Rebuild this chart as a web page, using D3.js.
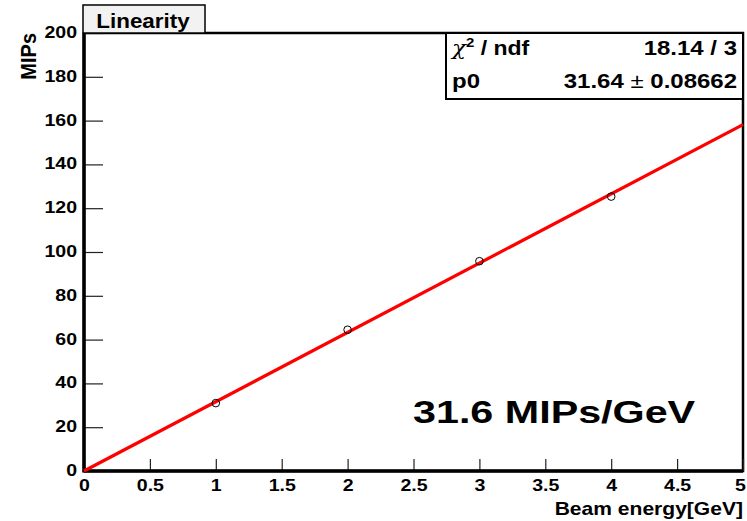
<!DOCTYPE html>
<html><head><meta charset="utf-8">
<script src="https://cdn.jsdelivr.net/npm/d3@7"></script>
<style>
body{margin:0;background:#fff}
text{font-family:"Liberation Sans",Arial,Helvetica,sans-serif;font-weight:bold;fill:#000}
</style></head>
<body><svg id="c" width="747" height="521"></svg>
<script>
// ---- data ----
const energies = [1, 2, 3, 4];
const mips = [31.0, 64.5, 95.8, 125.3];
const fitP0 = 31.64, fitP0Err = 0.08662, chi2 = 18.14, ndf = 3;
const xTicks = [0, 0.5, 1, 1.5, 2, 2.5, 3, 3.5, 4, 4.5, 5];
const xTickLabels = ["0", "0.5", "1", "1.5", "2", "2.5", "3", "3.5", "4", "4.5", "5"];
const yTicks = [0, 20, 40, 60, 80, 100, 120, 140, 160, 180, 200];
const yTickLabels = ["0", "20", "40", "60", "80", "100", "120", "140", "160", "180", "200"];
const titleText = "Linearity";
const xTitle = "Beam energy[GeV]";
const yTitle = "MIPs";
const bigText = "31.6 MIPs/GeV";

// ---- layout ----
const svg = d3.select("#c");
const x = d3.scaleLinear().domain([0, 5]).range([84, 743]);
const y = d3.scaleLinear().domain([0, 200]).range([471, 33]);

function stext(g, px, py, str, fs, sx, anchor) {
  return g.append("text")
    .attr("transform", `translate(${px},${py}) scale(${sx},1)`)
    .attr("font-size", fs).attr("text-anchor", anchor || "start").text(str);
}

// frame
svg.append("rect").attr("x", x(0)).attr("y", y(200)).attr("width", x(5) - x(0)).attr("height", y(0) - y(200))
  .attr("fill", "#fff").attr("stroke", "#000").attr("stroke-width", 2.5);

// ticks
const xMinor = d3.range(0, 51).map(i => i / 10);
const yMinor = d3.range(0, 41).map(i => i * 5);
const gx = svg.append("g").attr("transform", `translate(0,${y(0)})`);
gx.call(d3.axisBottom(x).tickValues(xMinor).tickSize(-6).tickFormat(""));
gx.call(d3.axisBottom(x).tickValues(xTicks).tickSize(-12).tickFormat((d, i) => xTickLabels[i]));
gx.select(".domain").remove();
gx.selectAll("line").attr("stroke", "#222").attr("stroke-width", 1.2);
gx.selectAll("text").attr("font-size", 17).attr("y", 20).attr("dy", 0)
  .attr("transform", d => d === 5 ? "translate(-3,0) scale(1.15,1)" : "scale(1.15,1)").attr("fill", "#000")
  .style("font-family", '"Liberation Sans",Arial,sans-serif').style("font-weight", "bold");

const gy = svg.append("g").attr("transform", `translate(${x(0)},0)`);
gy.call(d3.axisLeft(y).tickValues(yMinor).tickSize(-10).tickFormat(""));
gy.call(d3.axisLeft(y).tickValues(yTicks).tickSize(-19).tickFormat((d, i) => yTickLabels[i]));
gy.select(".domain").remove();
gy.selectAll("line").attr("stroke", "#222").attr("stroke-width", 1.2);
gy.selectAll("text").attr("font-size", 17).attr("x", 0).attr("dy", "0.27em")
  .attr("transform", "translate(-7,0) scale(1.15,1)").attr("fill", "#000")
  .style("font-family", '"Liberation Sans",Arial,sans-serif').style("font-weight", "bold");

// thick axis lines
svg.append("line").attr("x1", x(0)).attr("x2", x(5)).attr("y1", y(0)).attr("y2", y(0))
  .attr("stroke", "#000").attr("stroke-width", 3.5);
svg.append("line").attr("x1", x(0)).attr("x2", x(0)).attr("y1", y(0) + 1.5).attr("y2", y(200))
  .attr("stroke", "#000").attr("stroke-width", 3.5);

// fit line
const fitX = x.domain();
svg.append("line")
  .attr("x1", x(fitX[0])).attr("y1", y(fitP0 * fitX[0]))
  .attr("x2", x(fitX[1])).attr("y2", y(fitP0 * fitX[1]))
  .attr("stroke", "#ff0000").attr("stroke-width", 3.2);

// data points
svg.append("g").selectAll("circle").data(energies).join("circle")
  .attr("cx", d => x(d)).attr("cy", (d, i) => y(mips[i])).attr("r", 3.8)
  .attr("fill", "none").attr("stroke", "#000").attr("stroke-width", 1);

// title box
svg.append("rect").attr("x", 83).attr("y", 5).attr("width", 122).attr("height", 28)
  .attr("fill", "#f2f2f2").attr("stroke", "#000").attr("stroke-width", 1.5);
stext(svg, 143, 28, titleText, 20, 1.12, "middle");

// stats box
svg.append("rect").attr("x", 446).attr("y", 33).attr("width", 297).attr("height", 66)
  .attr("fill", "#fff").attr("stroke", "#000").attr("stroke-width", 2);
const chiT = stext(svg, 452, 55, "", 20, 1.15, "start");
chiT.append("tspan").style("font-family", '"DejaVu Serif",serif').style("font-style", "italic").style("font-weight", "normal").text("χ");
chiT.append("tspan").attr("font-size", 13).attr("dy", -8).text("2");
chiT.append("tspan").attr("dy", 8).text(" / ndf");
stext(svg, 737, 55, `${chi2} / ${ndf}`, 20, 1.2, "end");
stext(svg, 452, 88, "p0", 20, 1.2, "start");
const pT = stext(svg, 737, 88, "", 20, 1.2, "end");
pT.append("tspan").text(`${fitP0.toFixed(2)}`);
pT.append("tspan").style("font-weight", "normal").text(" ± ");
pT.append("tspan").text(`${fitP0Err}`);

// big annotation
stext(svg, 413, 423, bigText, 32, 1.29, "start");

// axis titles
stext(svg, 743, 515, xTitle, 18, 1.17, "end");
svg.append("text").attr("transform", "translate(36,33) rotate(-90) scale(1,1.12)")
  .attr("font-size", 20).attr("text-anchor", "end").text(yTitle);
</script></body></html>
